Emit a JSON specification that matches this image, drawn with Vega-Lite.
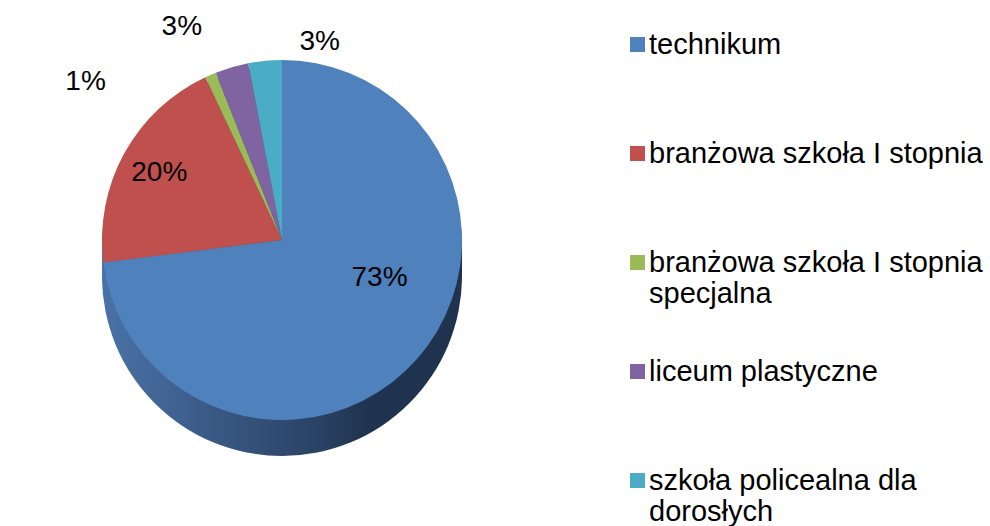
{
  "$schema": "https://vega.github.io/schema/vega-lite/v6.json",
  "width": 564,
  "height": 480,
  "autosize": {"type": "none"},
  "padding": {"left": 0, "top": 0, "right": 426, "bottom": 46},
  "background": "white",
  "config": {"view": {"stroke": null}, "font": "Liberation Sans"},
  "data": {"values": [
    {"idx": 1, "szkola": "technikum", "share": 0.73},
    {"idx": 2, "szkola": "branżowa szkoła I stopnia", "share": 0.20},
    {"idx": 3, "szkola": "branżowa szkoła I stopnia specjalna", "share": 0.01},
    {"idx": 4, "szkola": "liceum plastyczne", "share": 0.03},
    {"idx": 5, "szkola": "szkoła policealna dla dorosłych", "share": 0.03}
  ]},
  "layer": [
    {"transform": [{"filter": "datum.idx == 1"}], "mark": {"type": "arc", "radius": 180, "theta": 0, "theta2": 6.2832, "yOffset": 36, "fill": {"gradient": "linear", "x1": 0, "x2": 1, "y1": 0, "y2": 0, "stops": [{"offset": 0, "color": "#4a72a8"}, {"offset": 0.6, "color": "#2a4264"}, {"offset": 0.75, "color": "#1f324e"}, {"offset": 1, "color": "#1f324e"}]}}, "encoding": {}},
    {"transform": [{"filter": "datum.idx == 1"}], "mark": {"type": "arc", "radius": 180, "theta": 0, "theta2": 6.2832, "yOffset": 30, "fill": {"gradient": "linear", "x1": 0, "x2": 1, "y1": 0, "y2": 0, "stops": [{"offset": 0, "color": "#4a72a8"}, {"offset": 0.6, "color": "#2a4264"}, {"offset": 0.75, "color": "#1f324e"}, {"offset": 1, "color": "#1f324e"}]}}, "encoding": {}},
    {"transform": [{"filter": "datum.idx == 1"}], "mark": {"type": "arc", "radius": 180, "theta": 0, "theta2": 6.2832, "yOffset": 24, "fill": {"gradient": "linear", "x1": 0, "x2": 1, "y1": 0, "y2": 0, "stops": [{"offset": 0, "color": "#4a72a8"}, {"offset": 0.6, "color": "#2a4264"}, {"offset": 0.75, "color": "#1f324e"}, {"offset": 1, "color": "#1f324e"}]}}, "encoding": {}},
    {"transform": [{"filter": "datum.idx == 1"}], "mark": {"type": "arc", "radius": 180, "theta": 0, "theta2": 6.2832, "yOffset": 18, "fill": {"gradient": "linear", "x1": 0, "x2": 1, "y1": 0, "y2": 0, "stops": [{"offset": 0, "color": "#4a72a8"}, {"offset": 0.6, "color": "#2a4264"}, {"offset": 0.75, "color": "#1f324e"}, {"offset": 1, "color": "#1f324e"}]}}, "encoding": {}},
    {"transform": [{"filter": "datum.idx == 1"}], "mark": {"type": "arc", "radius": 180, "theta": 0, "theta2": 6.2832, "yOffset": 12, "fill": {"gradient": "linear", "x1": 0, "x2": 1, "y1": 0, "y2": 0, "stops": [{"offset": 0, "color": "#4a72a8"}, {"offset": 0.6, "color": "#2a4264"}, {"offset": 0.75, "color": "#1f324e"}, {"offset": 1, "color": "#1f324e"}]}}, "encoding": {}},
    {"transform": [{"filter": "datum.idx == 1"}], "mark": {"type": "arc", "radius": 180, "theta": 0, "theta2": 6.2832, "yOffset": 6, "fill": {"gradient": "linear", "x1": 0, "x2": 1, "y1": 0, "y2": 0, "stops": [{"offset": 0, "color": "#4a72a8"}, {"offset": 0.6, "color": "#2a4264"}, {"offset": 0.75, "color": "#1f324e"}, {"offset": 1, "color": "#1f324e"}]}}, "encoding": {}},
    {
      "mark": {"type": "arc", "radius": 180, "stroke": null},
      "encoding": {
        "theta": {"field": "share", "type": "quantitative", "stack": true},
        "order": {"field": "idx", "type": "quantitative"},
        "color": {
          "field": "szkola", "type": "nominal",
          "scale": {"domain": ["technikum", "branżowa szkoła I stopnia", "branżowa szkoła I stopnia specjalna", "liceum plastyczne", "szkoła policealna dla dorosłych"], "range": ["#4f81bd", "#c0504d", "#9bbb59", "#8064a2", "#4bacc6"]},
          "legend": {
            "title": null,
            "orient": "none",
            "legendX": 623,
            "legendY": 30,
            "padding": 0,
            "symbolType": "square",
            "symbolSize": 225,
            "symbolStrokeWidth": 0,
            "labelFont": "Liberation Sans",
            "labelFontSize": 29,
            "labelColor": "black",
            "labelOffset": -3,
            "labelLimit": 400,
            "rowPadding": 48,
            "labelExpr": "datum.label == 'branżowa szkoła I stopnia specjalna' ? ['branżowa szkoła I stopnia', 'specjalna'] : datum.label == 'szkoła policealna dla dorosłych' ? ['szkoła policealna dla', 'dorosłych'] : [datum.label, '']",
            "encode": {"labels": {"update": {"lineHeight": {"value": 34}, "dy": {"value": 17}}}}
          }
        }
      }
    },
    {
      "mark": {"type": "text", "radius": 110, "fontSize": 28, "font": "Liberation Sans", "color": "black", "dx": 15, "dy": -35},
      "encoding": {
        "theta": {"field": "share", "type": "quantitative", "stack": true},
        "order": {"field": "idx", "type": "quantitative"},
        "text": {"condition": {"test": "datum.idx == 1", "field": "share", "format": ".0%"}, "value": ""}
      }
    },
    {
      "mark": {"type": "text", "radius": 140, "fontSize": 28, "font": "Liberation Sans", "color": "black"},
      "encoding": {
        "theta": {"field": "share", "type": "quantitative", "stack": true},
        "order": {"field": "idx", "type": "quantitative"},
        "text": {"condition": {"test": "datum.idx == 2", "field": "share", "format": ".0%"}, "value": ""}
      }
    },
    {
      "mark": {"type": "text", "radius": 205, "fontSize": 28, "font": "Liberation Sans", "color": "black", "dx": -115, "dy": 30},
      "encoding": {
        "theta": {"field": "share", "type": "quantitative", "stack": true},
        "order": {"field": "idx", "type": "quantitative"},
        "text": {"condition": {"test": "datum.idx == 3", "field": "share", "format": ".0%"}, "value": ""}
      }
    },
    {
      "mark": {"type": "text", "radius": 205, "fontSize": 28, "font": "Liberation Sans", "color": "black", "dx": -43, "dy": -16},
      "encoding": {
        "theta": {"field": "share", "type": "quantitative", "stack": true},
        "order": {"field": "idx", "type": "quantitative"},
        "text": {"condition": {"test": "datum.idx == 4", "field": "share", "format": ".0%"}, "value": ""}
      }
    },
    {
      "mark": {"type": "text", "radius": 205, "fontSize": 28, "font": "Liberation Sans", "color": "black", "dx": 57, "dy": 6},
      "encoding": {
        "theta": {"field": "share", "type": "quantitative", "stack": true},
        "order": {"field": "idx", "type": "quantitative"},
        "text": {"condition": {"test": "datum.idx == 5", "field": "share", "format": ".0%"}, "value": ""}
      }
    }
  ]
}
